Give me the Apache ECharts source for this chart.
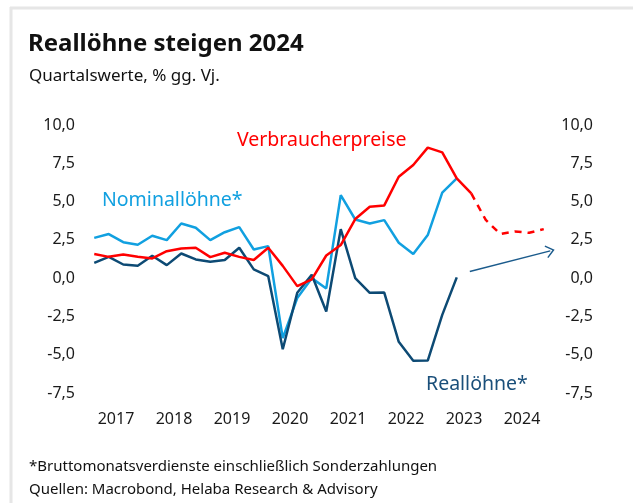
<!DOCTYPE html>
<html>
<head>
<meta charset="utf-8">
<script src="https://cdn.jsdelivr.net/npm/echarts@6/dist/echarts.min.js"></script>
<style>
  html, body { margin: 0; padding: 0; background: #fff; }
  #chart { width: 633px; height: 503px; }
</style>
</head>
<body>
<div id="chart"></div>
<script>
// Jahre (Achsenbeschriftung) und Quartale (Datenpunkte)
var years = ["2017", "2018", "2019", "2020", "2021", "2022", "2023", "2024"];
var quarters = [];
years.forEach(function (y) {
    quarters.push(y + " Q1", y + " Q2", y + " Q3", y + " Q4");
});

// Verbraucherpreise, % gg. Vj. (Ist bis Q3 2023)
var verbraucherpreise = [1.57, 1.39, 1.55, 1.4, 1.29, 1.76, 1.94, 1.98, 1.37, 1.66, 1.39, 1.18, 1.98, 0.8,
    -0.52, -0.08, 1.48, 2.16, 3.86, 4.66, 4.75, 6.62, 7.39, 8.52, 8.21, 6.51, 5.53];
// Prognose ab Q3 2023
var prognose = [5.53, 3.8, 2.88, 3.05, 2.96, 3.2];
var prognoseStart = 26;
// Nominallöhne*
var nominalloehne = [2.63, 2.88, 2.35, 2.18, 2.77, 2.48, 3.57, 3.29, 2.48, 3.0, 3.33, 1.87, 2.09, -3.92,
    -1.3, 0.0, -0.67, 5.42, 3.83, 3.57, 3.79, 2.31, 1.57, 2.81, 5.58, 6.51];
// Reallöhne*
var realloehne = [1.0, 1.39, 0.89, 0.81, 1.46, 0.85, 1.61, 1.22, 1.07, 1.18, 1.98, 0.57, 0.13, -4.64,
    -0.95, 0.22, -2.18, 3.2, 0.0, -0.96, -0.94, -4.16, -5.4, -5.38, -2.4, 0.05];
// Pfeil (Quartalsindex, Wert)
var arrowFrom = [25.9, 0.44];
var arrowTo = [31.45, 1.78];

var RED = "#ff0000";
var LIGHT = "#11a0e0";
var DARK = "#0d4a74";
var FONT = "Noto Sans";

function pairs(arr, start) {
    return arr.map(function (v, i) { return [i + (start || 0), v]; });
}
function fmt(v) {
    return v.toFixed(1).replace(".", ",");
}

var myChart = echarts.init(document.getElementById("chart"));
myChart.setOption({
    animation: false,
    textStyle: { fontFamily: FONT },
    grid: { left: 87, right: 82, top: 125, bottom: 110 },
    xAxis: [
        {
            // Quartale, unsichtbar
            type: "value",
            min: -0.5,
            max: 31.5,
            show: false
        },
        {
            type: "category",
            data: years,
            boundaryGap: true,
            position: "bottom",
            axisLine: { show: false },
            axisTick: { show: false },
            axisLabel: { color: "#1a1a1a", fontSize: 16, margin: 18, fontFamily: FONT }
        }
    ],
    yAxis: [
        {
            type: "value",
            min: -7.5,
            max: 10,
            interval: 2.5,
            position: "left",
            axisLine: { show: false },
            axisTick: { show: false },
            splitLine: { show: false },
            axisLabel: { color: "#1a1a1a", fontSize: 16, margin: 12, formatter: fmt, fontFamily: FONT }
        },
        {
            type: "value",
            min: -7.5,
            max: 10,
            interval: 2.5,
            position: "right",
            axisLine: { show: false },
            axisTick: { show: false },
            splitLine: { show: false },
            axisLabel: { color: "#1a1a1a", fontSize: 16, margin: 42, align: "right", formatter: fmt, fontFamily: FONT }
        }
    ],
    series: [
        {
            name: "Nominallöhne*",
            type: "line",
            data: pairs(nominalloehne),
            symbol: "none",
            lineStyle: { color: LIGHT, width: 2.5 },
            z: 2
        },
        {
            name: "Reallöhne*",
            type: "line",
            data: pairs(realloehne),
            symbol: "none",
            lineStyle: { color: DARK, width: 2.5 },
            z: 3,
            markLine: {
                silent: true,
                symbol: ["none", "path://M0,0 L6,9 L5,10 L0,2.6 L-5,10 L-6,9 Z"],
                symbolSize: [13, 9],
                label: { show: false },
                lineStyle: { color: "#1b5b8c", width: 1.5, type: "solid" },
                data: [[{ coord: arrowFrom }, { coord: arrowTo }]]
            }
        },
        {
            name: "Verbraucherpreise",
            type: "line",
            data: pairs(verbraucherpreise),
            symbol: "none",
            lineStyle: { color: RED, width: 2.5 },
            z: 4
        },
        {
            name: "Prognose",
            type: "line",
            data: pairs(prognose, prognoseStart),
            symbol: "none",
            lineStyle: { color: RED, width: 2.5, type: [7, 6] },
            z: 4
        }
    ],
    graphic: [
        // Rahmen
        { type: "line", shape: { x1: 10, y1: 8, x2: 633, y2: 8 }, style: { stroke: "#e6e6e6", lineWidth: 3 } },
        { type: "line", shape: { x1: 11, y1: 7, x2: 11, y2: 503 }, style: { stroke: "#e6e6e6", lineWidth: 3 } },
        // Titel
        { type: "text", left: 28, top: 32, style: { text: "Reallöhne steigen 2024", font: "bold 24px " + FONT, fill: "#111" } },
        { type: "text", left: 29, top: 68, style: { text: "Quartalswerte, % gg. Vj.", font: "17px " + FONT, fill: "#111" } },
        // Beschriftungen
        { type: "text", left: 237, top: 130, style: { text: "Verbraucherpreise", font: "19.5px " + FONT, fill: RED } },
        { type: "text", left: 102, top: 190, style: { text: "Nominallöhne*", font: "19.5px " + FONT, fill: LIGHT } },
        { type: "text", left: 426, top: 374, style: { text: "Reallöhne*", font: "19.5px " + FONT, fill: "#1a4f7a" } },
        // Fußnoten
        { type: "text", left: 29, top: 459, style: { text: "*Bruttomonatsverdienste einschließlich Sonderzahlungen", font: "15px " + FONT, fill: "#111" } },
        { type: "text", left: 29, top: 482, style: { text: "Quellen: Macrobond, Helaba Research & Advisory", font: "15px " + FONT, fill: "#111" } }
    ]
});
</script>
</body>
</html>
